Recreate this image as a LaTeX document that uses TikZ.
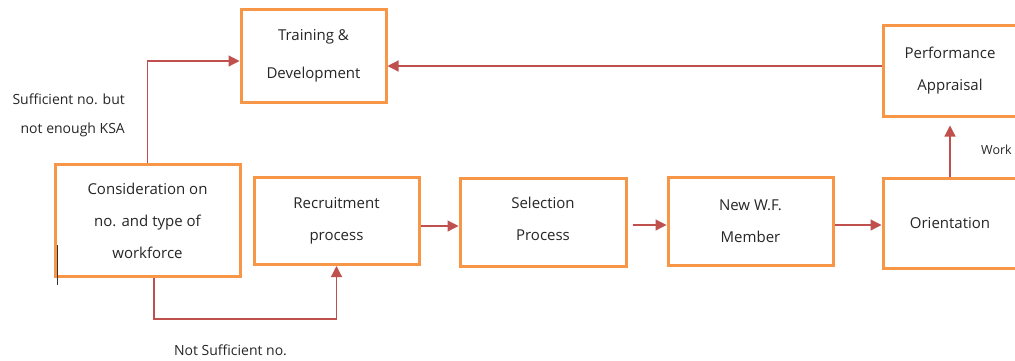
\documentclass[tikz,border=0pt]{standalone}
\usepackage{fontspec}
\setmainfont{Open Sans}
\usetikzlibrary{arrows.meta}
\definecolor{boxorange}{HTML}{F79646}
\definecolor{linkred}{HTML}{C0504D}
\definecolor{inktext}{HTML}{262626}
\begin{document}
\begin{tikzpicture}[x=1pt,y=-1pt,
  stage/.style={draw=boxorange, line width=3pt, fill=white, inner sep=0pt,
    align=center, text=inktext, font=\fontsize{15}{32}\selectfont},
  link/.style={draw=linkred, line width=1.2pt,
    -{Triangle[length=11pt,width=11pt]}},
  lbl/.style={text=inktext, inner sep=0pt}]
\useasboundingbox (0,0) rectangle (1015,360);
\clip (0,0) rectangle (1015,360);

% process boxes
\node[stage, minimum width=145pt, minimum height=93pt] (train) at (313.5,55.5)
  {Training \&\\[6pt]Development};
\node[stage, minimum width=134pt, minimum height=91pt] (perf) at (950,70.5)
  {Performance\\Appraisal};
\node[stage, minimum width=185pt, minimum height=112pt] (cons) at (147.5,220.5)
  {Consideration on\\no. and type of\\workforce};
\node[stage, minimum width=165pt, minimum height=87pt] (rec) at (336.5,221)
  {Recruitment\\process};
\node[stage, minimum width=166pt, minimum height=88pt, text depth=7pt] (sel) at (543,222)
  {Selection\\Process};
\node[stage, minimum width=165pt, minimum height=88pt] (new) at (750.5,221)
  {New W.F.\\Member};
\node[stage, minimum width=134pt, minimum height=90pt] (orient) at (950,223)
  {Orientation};

% helper levels for the connectors
\coordinate (y61) at (0,61);
\coordinate (y66) at (0,66);
\coordinate (y225) at (0,225);
\coordinate (y226) at (0,226);
\coordinate (y319) at (0,319);
\coordinate (x154) at (154,0);

% connectors
\draw[link] (cons.north) |- (train.west |- y61);
\draw[link] (perf.west |- y66) -- (train.east |- y66);
\draw[link] (orient.north) -- ([yshift=-8pt]perf.south);
\draw[link] (rec.east |- y226) -- (sel.west |- y226);
\draw[link] ([xshift=5pt]sel.east |- y225) -- (new.west |- y225);
\draw[link] (new.east |- y225) -- (orient.west |- y225);
\draw[link] (x154 |- cons.south) -- (x154 |- y319) -| (rec.south);

% labels
\node[lbl, anchor=east, align=right, font=\fontsize{14}{29}\selectfont] (suff) at (125,115.5)
  {Sufficient no. but\\not enough KSA};
\node[lbl, font=\fontsize{14}{16}\selectfont] (notsuff) at (230.5,350) {Not Sufficient no.};
\node[lbl, font=\fontsize{12.5}{14}\selectfont] (work) at (996.5,150) {Work};

% stray text cursor mark
\draw[line width=1pt, black!80] (57,245) -- (57,285);
\end{tikzpicture}
\end{document}
